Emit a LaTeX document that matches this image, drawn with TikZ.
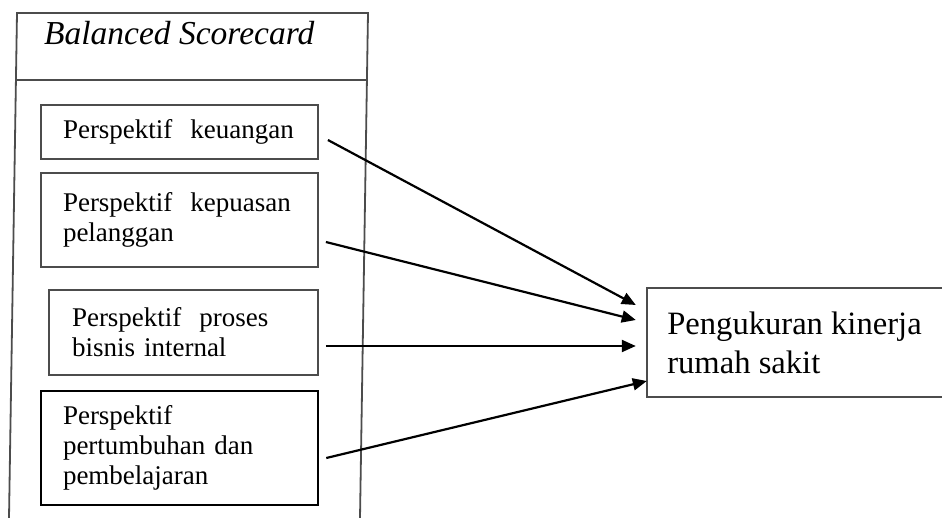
\documentclass[tikz,border=0pt]{standalone}
\usepackage{fontspec}
\setmainfont{Liberation Serif}
\usetikzlibrary{arrows.meta,calc}

\tikzset{
  frameline/.style={draw=black!70, line width=1.8pt},
  persp/.style={frameline, rectangle, align=left, inner xsep=22pt, inner ysep=0pt,
    font=\fontsize{27}{30}\selectfont},
  flow/.style={draw=black, line width=2.2pt,
    -{Triangle[length=14pt,width=12pt]}},
}

\begin{document}
\begin{tikzpicture}[x=1pt,y=-1pt]
\useasboundingbox (0,0) rectangle (942,518);

% Balanced Scorecard frame, open at the bottom
\draw[frameline] (9,518) -- (17,13) -- (368,13) -- (360,518);
\draw[frameline] (16,80) -- (367,80);
\node[anchor=base west, inner sep=0pt, font=\fontsize{33.5}{38}\selectfont\itshape]
  (bsc) at (44,45) {Balanced Scorecard};

% The four perspectives
\node[persp, text width=233pt, minimum height=54pt] (k1) at (179.5,132)
  {Perspektif\ \ keuangan};
\node[persp, text width=233pt, minimum height=94pt] (k2) at (179.5,220)
  {Perspektif\ \ kepuasan\\pelanggan};
\node[persp, inner xsep=23pt, text width=223pt, minimum height=85pt] (k3) at (183.5,332.5)
  {Perspektif\ \ proses\\bisnis internal};
\node[persp, draw=black, line width=2.6pt, text width=233pt, minimum height=114pt] (k4) at (179.5,448)
  {Perspektif\\pertumbuhan dan\\pembelajaran};

% Outcome box, open towards the right
\node[align=left, inner sep=0pt, minimum width=295pt, minimum height=109pt,
  font=\fontsize{32.6}{39}\selectfont] (out) at (794.5,342.5)
  {Pengukuran kinerja\\rumah sakit};
\draw[frameline] (out.north east) -- (out.north west) -- (out.south west) -- (out.south east);

% Influence arrows
\draw[flow] ($(k1.east)+(9,8)$)   -- ($(out.west)+(-11,-37.5)$);
\draw[flow] ($(k2.east)+(7,22)$)  -- ($(out.west)+(-11,-22.5)$);
\draw[flow] ($(k3.east)+(7,13.5)$) -- ($(out.west)+(-11,3.5)$);
\draw[flow] ($(k4.east)+(7,10)$)  -- ($(out.west)+(0,38.5)$);
\end{tikzpicture}
\end{document}
